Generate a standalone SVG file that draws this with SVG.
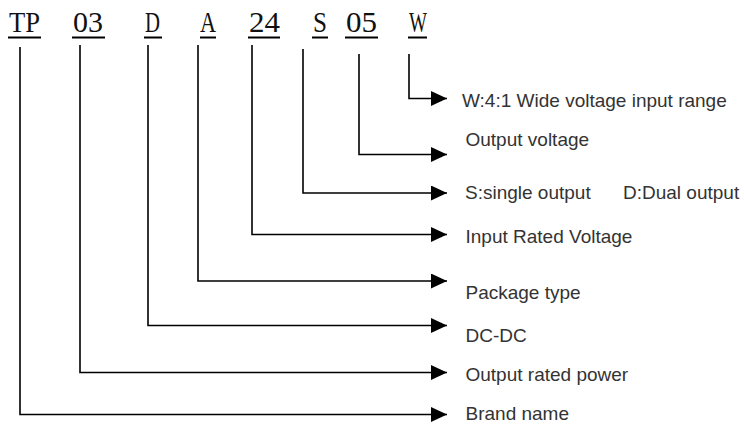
<svg xmlns="http://www.w3.org/2000/svg" width="744" height="425" viewBox="0 0 744 425">
<style>
.code{font-family:"Liberation Serif","DejaVu Serif",serif;font-size:30px;fill:#111}
.ul{stroke:#000;stroke-width:2}
.desc{font-family:"Liberation Sans",Arial,sans-serif;font-size:19px;fill:#333}
.conn{fill:none;stroke:#000;stroke-width:1.6}
</style>
<defs>
<marker id="arr" markerUnits="userSpaceOnUse" markerWidth="17" markerHeight="16" refX="16" refY="7.5" orient="auto">
<path d="M0,0 L16,7.5 L0,15 z" fill="#000"/>
</marker>
</defs>
<rect width="744" height="425" fill="#fff"/>
<g id="code-TP"><text class="code" x="9" y="32" textLength="31" lengthAdjust="spacingAndGlyphs">TP</text><line class="ul" x1="8" y1="37.5" x2="41" y2="37.5"/></g>
<g id="code-03"><text class="code" x="73" y="32" textLength="30" lengthAdjust="spacingAndGlyphs">03</text><line class="ul" x1="72" y1="37.5" x2="105" y2="37.5"/></g>
<g id="code-D"><text class="code" x="145" y="32" textLength="15" lengthAdjust="spacingAndGlyphs">D</text><line class="ul" x1="144" y1="37.5" x2="162" y2="37.5"/></g>
<g id="code-A"><text class="code" x="200" y="32" textLength="16" lengthAdjust="spacingAndGlyphs">A</text><line class="ul" x1="200" y1="37.5" x2="216" y2="37.5"/></g>
<g id="code-24"><text class="code" x="249" y="32" textLength="31" lengthAdjust="spacingAndGlyphs">24</text><line class="ul" x1="248" y1="37.5" x2="280" y2="37.5"/></g>
<g id="code-S"><text class="code" x="313" y="32" textLength="14" lengthAdjust="spacingAndGlyphs">S</text><line class="ul" x1="312" y1="37.5" x2="328" y2="37.5"/></g>
<g id="code-05"><text class="code" x="346" y="32" textLength="31" lengthAdjust="spacingAndGlyphs">05</text><line class="ul" x1="345" y1="37.5" x2="378" y2="37.5"/></g>
<g id="code-W"><text class="code" x="409" y="32" textLength="18" lengthAdjust="spacingAndGlyphs">W</text><line class="ul" x1="408" y1="37.5" x2="427" y2="37.5"/></g>
<g id="connectors">
<path class="conn" marker-end="url(#arr)" d="M409,54 V98.5 H447"/>
<path class="conn" marker-end="url(#arr)" d="M359,54 V154.5 H447"/>
<path class="conn" marker-end="url(#arr)" d="M303,49 V193 H447"/>
<path class="conn" marker-end="url(#arr)" d="M252,45 V234.5 H447"/>
<path class="conn" marker-end="url(#arr)" d="M198,45 V281 H447"/>
<path class="conn" marker-end="url(#arr)" d="M148,45 V325.5 H447"/>
<path class="conn" marker-end="url(#arr)" d="M80,45 V372.5 H447"/>
<path class="conn" marker-end="url(#arr)" d="M20,47 V414.5 H447"/>
</g>
<g id="desc-W"><text class="desc" x="462" y="106.5">W:4:1 Wide voltage input range</text></g>
<g id="desc-05"><text class="desc" x="465.5" y="146">Output voltage</text></g>
<g id="desc-S"><text class="desc" x="465" y="199">S:single output<tspan x="623">D:Dual output</tspan></text></g>
<g id="desc-24"><text class="desc" x="465.5" y="243">Input Rated Voltage</text></g>
<g id="desc-A"><text class="desc" x="465.5" y="298.5">Package type</text></g>
<g id="desc-D"><text class="desc" x="465.5" y="341.5">DC-DC</text></g>
<g id="desc-03"><text class="desc" x="465.5" y="381">Output rated power</text></g>
<g id="desc-TP"><text class="desc" x="465.5" y="419.5">Brand name</text></g>
</svg>
